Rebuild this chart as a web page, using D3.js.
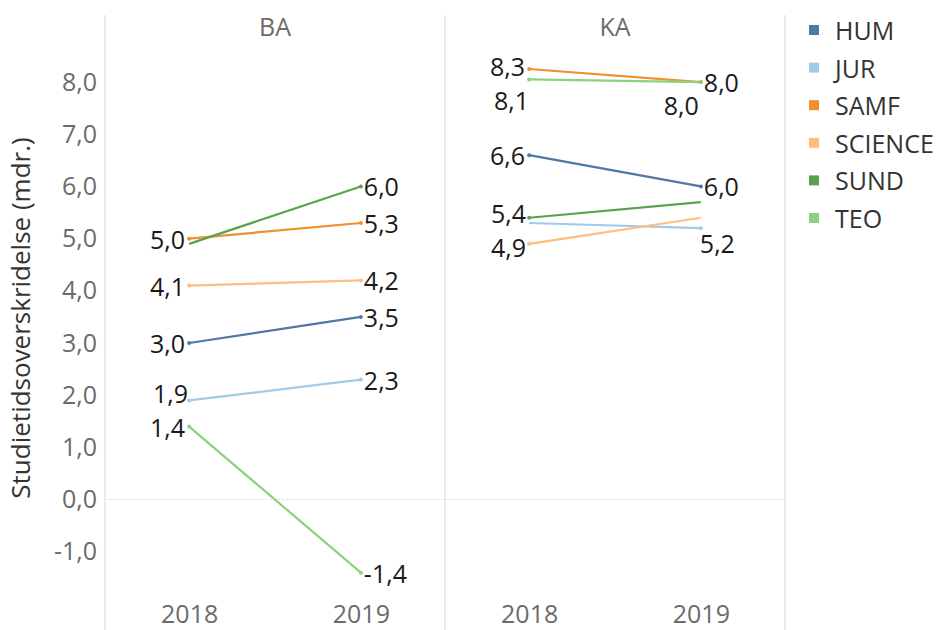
<!DOCTYPE html>
<html>
<head>
<meta charset="utf-8">
<script src="https://cdn.jsdelivr.net/npm/d3@7"></script>
<style>
  body { margin: 0; background: #fff; }
  text { font-family: "Open Sans", sans-serif; }
</style>
</head>
<body>
<div id="chart"></div>
<script>
// data
var panels = ["BA", "KA"];
var years = ["2018", "2019"];
var faculties = ["HUM", "JUR", "SAMF", "SCIENCE", "SUND", "TEO"];
var colors = ["#4e79a7", "#a0cbe8", "#f28e2b", "#ffbe7d", "#59a14f", "#8cd17d"];

var ba2018 = [3.0, 1.9, 5.0, 4.1, 4.9, 1.4];
var ba2019 = [3.5, 2.3, 5.3, 4.2, 6.0, -1.4];
var ka2018 = [6.6, 5.3, 8.25, 4.9, 5.4, 8.05];
var ka2019 = [6.0, 5.2, 8.0, 5.4, 5.7, 8.0];

var yTicks = [-1, 0, 1, 2, 3, 4, 5, 6, 7, 8];

// label placement tweaks (Tableau moved/hid a few of them)
var labelTweaks = {
    "BA|SUND|2018": null,
    "BA|JUR|2018": { anchor: "end", dx: -1, dy: -7 },
    "KA|JUR|2018": null,
    "KA|SAMF|2018": { anchor: "end", dx: -4, dy: -3 },
    "KA|SUND|2018": { anchor: "end", dx: -3, dy: -5 },
    "KA|SCIENCE|2018": { anchor: "end", dx: -3, dy: 3 },
    "KA|TEO|2018": { anchor: "end", dx: 0, dy: 21 },
    "KA|TEO|2019": { anchor: "end", dx: -2, dy: 23 },
    "KA|JUR|2019": { anchor: "start", dx: -1, dy: 15 },
    "KA|SUND|2019": null,
    "KA|SCIENCE|2019": null
};

var svgWidth = 941;
var svgHeight = 630;
var fontSize = "25px";

var svg = d3.select("#chart")
    .append("svg")
    .attr("width", svgWidth)
    .attr("height", svgHeight);

var da = d3.formatLocale({ decimal: ",", thousands: ".", grouping: [3], currency: ["", " kr"], minus: "-" });
var fmt = da.format(".1f");

// build series rows
var valuesByPanel = { BA: [ba2018, ba2019], KA: [ka2018, ka2019] };
var series = [];
panels.forEach(function (p) {
    faculties.forEach(function (f, i) {
        series.push({
            panel: p,
            faculty: f,
            color: colors[i],
            points: years.map(function (yr, j) {
                return { year: yr, value: valuesByPanel[p][j][i] };
            })
        });
    });
});

// scales
var panelScale = d3.scaleBand().domain(panels).range([105, 785]);
var xScale = d3.scalePoint().domain(years).range([0, panelScale.bandwidth()]).padding(0.49);
var yScale = d3.scaleLinear().domain([-2, 8.8]).range([604, 40.3]);

// panel borders
var borders = [105, 445, 785];
svg.selectAll(".border")
    .data(borders)
    .enter()
    .append("line")
    .attr("x1", d => d).attr("x2", d => d)
    .attr("y1", 15).attr("y2", svgHeight)
    .attr("stroke", "#dedede")
    .attr("stroke-width", 1.2);

// zero line
svg.append("line")
    .attr("x1", 105).attr("x2", 785)
    .attr("y1", yScale(0)).attr("y2", yScale(0))
    .attr("stroke", "#d8d8d8")
    .attr("stroke-dasharray", "1,1");

// y axis
var yAxis = svg.append("g")
    .attr("transform", "translate(105,0)")
    .call(d3.axisLeft(yScale).tickValues(yTicks).tickFormat(fmt).tickSize(0).tickPadding(8));
yAxis.select(".domain").remove();
yAxis.selectAll("text")
    .attr("font-size", fontSize)
    .attr("fill", "#6b6b6b")
    .style("font-family", "'Open Sans', sans-serif");

// y-axis label
svg.append("text")
    .attr("transform", "translate(30,318) rotate(-90)")
    .attr("text-anchor", "middle")
    .attr("font-size", "26px")
    .attr("fill", "#333")
    .text("Studietidsoverskridelse (mdr.)");

var line = d3.line()
    .x(d => xScale(d.year))
    .y(d => yScale(d.value));

panels.forEach(function (p) {
    var g = svg.append("g")
        .attr("transform", `translate(${panelScale(p)},0)`);

    // header
    g.append("text")
        .attr("x", panelScale.bandwidth() / 2)
        .attr("y", 26)
        .attr("text-anchor", "middle")
        .attr("dominant-baseline", "central")
        .attr("font-size", fontSize)
        .attr("fill", "#6b6b6b")
        .text(p);

    // x axis
    var xAxis = g.append("g")
        .attr("transform", "translate(0,605)")
        .call(d3.axisBottom(xScale).tickSize(0).tickPadding(0));
    xAxis.select(".domain").remove();
    xAxis.selectAll("text")
        .attr("font-size", fontSize)
        .attr("fill", "#6b6b6b")
        .style("font-family", "'Open Sans', sans-serif");

    var rows = series.filter(s => s.panel === p);

    g.selectAll(".series")
        .data(rows)
        .enter()
        .append("path")
        .attr("d", d => line(d.points))
        .attr("fill", "none")
        .attr("stroke", d => d.color)
        .attr("stroke-width", 2.2);

    var marks = [];
    rows.forEach(function (s) {
        s.points.forEach(function (pt, j) {
            var key = p + "|" + s.faculty + "|" + pt.year;
            var tw = labelTweaks[key];
            if (tw === null) return;
            if (!tw) tw = j === 0 ? { anchor: "end", dx: -4, dy: 0 } : { anchor: "start", dx: 3, dy: 0 };
            marks.push({ color: s.color, year: pt.year, value: pt.value, tw: tw });
        });
    });

    g.selectAll(".dot")
        .data(marks)
        .enter()
        .append("circle")
        .attr("cx", d => xScale(d.year))
        .attr("cy", d => yScale(d.value))
        .attr("r", 2)
        .attr("fill", d => d.color);

    g.selectAll(".lbl")
        .data(marks)
        .enter()
        .append("text")
        .attr("x", d => xScale(d.year) + d.tw.dx)
        .attr("y", d => yScale(d.value) + d.tw.dy)
        .attr("text-anchor", d => d.tw.anchor)
        .attr("dominant-baseline", "central")
        .attr("font-size", fontSize)
        .attr("fill", "#1a1a1a")
        .text(d => fmt(d.value));
});

// legend
var legend = svg.append("g").attr("transform", "translate(809,30)");
var items = legend.selectAll(".item")
    .data(faculties)
    .enter()
    .append("g")
    .attr("transform", (d, i) => `translate(0, ${i * 37.6})`);
items.append("rect")
    .attr("x", 0).attr("y", -5)
    .attr("width", 10).attr("height", 10)
    .attr("fill", (d, i) => colors[i]);
items.append("text")
    .attr("x", 26)
    .attr("y", 0)
    .attr("dominant-baseline", "central")
    .attr("font-size", fontSize)
    .attr("fill", "#333")
    .text(d => d);
</script>
</body>
</html>
